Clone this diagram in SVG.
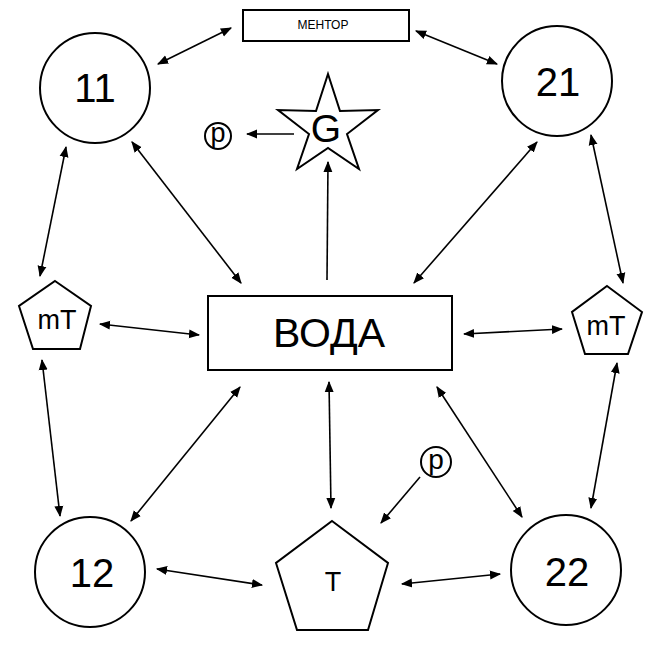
<svg xmlns="http://www.w3.org/2000/svg" width="650" height="650" viewBox="0 0 650 650">
<style>
.shape{fill:#fff;stroke:#000;stroke-width:2}
.t{font-family:"Liberation Sans",Arial,sans-serif;fill:#000;text-anchor:middle}
.c line{stroke:#000;stroke-width:1.6;marker-end:url(#ah)}
.c line.d{marker-start:url(#ah)}
</style>
<defs>
<marker id="ah" viewBox="0 0 10 10" refX="9" refY="5" markerWidth="7" markerHeight="7" orient="auto-start-reverse" markerUnits="strokeWidth">
<path d="M0,1 L10,5 L0,9 z" fill="#000"/>
</marker>
</defs>
<rect width="650" height="650" fill="#fff"/>
<g id="mentor"><rect class="shape" x="243" y="10" width="166" height="31"/><text class="t" x="323" y="29" font-size="12">МЕНТОР</text></g>
<g id="n11"><circle class="shape" cx="95" cy="88" r="55"/><text class="t" x="95" y="102" font-size="40">11</text></g>
<g id="n21"><circle class="shape" cx="557" cy="81" r="55"/><text class="t" x="558" y="96" font-size="40">21</text></g>
<g id="n12"><circle class="shape" cx="90" cy="572" r="55"/><text class="t" x="92" y="587" font-size="40">12</text></g>
<g id="n22"><circle class="shape" cx="566" cy="570" r="55"/><text class="t" x="567" y="586" font-size="40">22</text></g>
<g id="star"><polygon class="shape" points="328,74 340,111 378,110 347,134 359,169 328,148 297,169 309,134 278,110 316,111"/><text class="t" x="326" y="142" font-size="39">G</text></g>
<g id="p1"><circle class="shape" cx="218" cy="136" r="13" stroke-width="1.5"/><text class="t" x="218" y="142" font-size="27">p</text></g>
<g id="p2"><circle class="shape" cx="436" cy="462" r="15" stroke-width="1.5"/><text class="t" x="436" y="469" font-size="28">p</text></g>
<g id="voda"><rect class="shape" x="208" y="296" width="244" height="74"/><text class="t" x="329" y="347" font-size="41">ВОДА</text></g>
<g id="mTleft"><polygon class="shape" points="55,281 91,306 80,349 33,349 19,306"/><text class="t" x="57" y="329" font-size="27">mT</text></g>
<g id="mTright"><polygon class="shape" points="607,286 642,312 628,354 585,354 572,312"/><text class="t" x="606" y="335" font-size="27">mT</text></g>
<g id="T"><polygon class="shape" points="332,521 388,563 368,630 297,630 276,563"/><text class="t" x="333" y="591" font-size="27">T</text></g>
<g id="connectors" class="c">
<line class="d" x1="158" y1="64" x2="231" y2="28"/>
<line class="d" x1="416" y1="31" x2="497" y2="64"/>
<line x1="294" y1="134" x2="247" y2="134"/>
<line class="d" x1="132" y1="142" x2="241" y2="283"/>
<line class="d" x1="66" y1="147" x2="40" y2="276"/>
<line x1="327" y1="280" x2="328" y2="162"/>
<line class="d" x1="537" y1="142" x2="414" y2="283"/>
<line class="d" x1="591" y1="135" x2="623" y2="283"/>
<line class="d" x1="100" y1="324" x2="199" y2="335"/>
<line class="d" x1="464" y1="334" x2="562" y2="329"/>
<line class="d" x1="42" y1="360" x2="60" y2="516"/>
<line class="d" x1="240" y1="387" x2="131" y2="521"/>
<line class="d" x1="329" y1="382" x2="331" y2="508"/>
<line class="d" x1="437" y1="387" x2="522" y2="517"/>
<line class="d" x1="617" y1="363" x2="591" y2="508"/>
<line x1="420" y1="477" x2="381" y2="523"/>
<line class="d" x1="157" y1="569" x2="262" y2="585"/>
<line class="d" x1="402" y1="584" x2="500" y2="574"/>
</g>
</svg>
